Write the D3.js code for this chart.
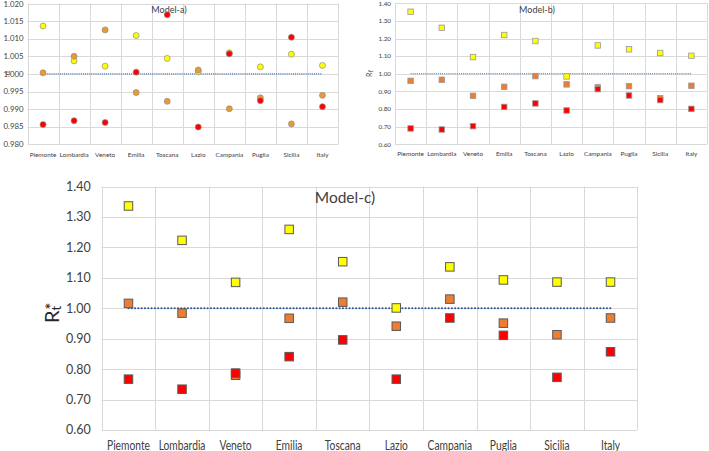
<!DOCTYPE html>
<html><head><meta charset="utf-8">
<script src="https://cdn.jsdelivr.net/npm/d3@7"></script>
<style>body{margin:0;background:#fff}svg{display:block;font-family:Lato,"Liberation Sans",sans-serif}</style>
</head><body><svg id="c" width="709" height="451"></svg>
<script>
const regions = ["Piemonte","Lombardia","Veneto","Emilia","Toscana","Lazio","Campania","Puglia","Sicilia","Italy"];
// Model-a) alpha values
const aYellow = [1.0136,1.0037,1.0022,1.0109,1.0044,1.0006,1.0060,1.0020,1.0056,1.0024];
const aOrange = [1.0003,1.0050,1.0125,0.9947,0.9922,1.0011,0.9901,0.9932,0.9858,0.9939];
const aRed    = [0.9856,0.9867,0.9862,1.0005,1.0168,0.9849,1.0057,0.9924,1.0104,0.9907];
const aTicks  = [0.980,0.985,0.990,0.995,1.000,1.005,1.010,1.015,1.020];
// Model-b) Rt* values
const bYellow = [1.352,1.261,1.095,1.220,1.186,0.985,1.161,1.139,1.118,1.102];
const bOrange = [0.960,0.966,0.875,0.926,0.987,0.940,0.923,0.930,0.862,0.932];
const bRed    = [0.690,0.684,0.703,0.812,0.832,0.792,0.913,0.877,0.851,0.801];
// Model-c) Rt* values
const cYellow = [1.336,1.223,1.085,1.259,1.153,1.001,1.136,1.093,1.086,1.086];
const cOrange = [1.016,0.984,0.780,0.967,1.020,0.941,1.030,0.951,0.913,0.968];
const cRed    = [0.767,0.734,0.787,0.841,0.896,0.767,0.968,0.911,0.773,0.857];
const rTicks  = [0.60,0.70,0.80,0.90,1.00,1.10,1.20,1.30,1.40];

const svg = d3.select("#c");

function panel(o){
  const g = svg.append("g");
  const x = d3.scaleBand().domain(regions).range([o.x0,o.x1]);
  const y = d3.scaleLinear().domain([o.ticks[0],o.ticks[o.ticks.length-1]]).range([o.y1,o.y0]);
  g.selectAll(".hg").data(o.ticks).enter().append("line")
    .attr("x1",o.x0).attr("x2",o.x1).attr("y1",d=>Math.round(y(d))+0.5).attr("y2",d=>Math.round(y(d))+0.5)
    .attr("stroke","#d9d9d9").attr("stroke-width",1);
  const vx = regions.map(r=>x(r)).concat([o.x1]);
  g.selectAll(".vg").data(vx).enter().append("line")
    .attr("x1",d=>Math.round(d)+0.5).attr("x2",d=>Math.round(d)+0.5).attr("y1",o.y0).attr("y2",o.y1)
    .attr("stroke","#d9d9d9").attr("stroke-width",1);
  g.selectAll(".yt").data(o.ticks).enter().append("text")
    .attr("x",o.x0-o.ypad).attr("y",d=>Math.max(y(d)+o.yfs*0.35, o.yfs*0.85)).attr("text-anchor","end")
    .attr("font-size",o.yfs).attr("fill","#404040").text(d=>d.toFixed(o.dec));
  const xt = g.selectAll(".xt").data(regions).enter().append("text")
    .attr("x",d=>x(d)+x.bandwidth()/2).attr("y",o.xly).attr("text-anchor","middle")
    .attr("font-size",o.xfs).attr("fill","#404040").text(d=>d);
  if(o.squeeze){
    xt.each(function(){ const L=this.getComputedTextLength();
      d3.select(this).attr("textLength",L*o.squeeze).attr("lengthAdjust","spacingAndGlyphs"); });
  }
  g.append("line").attr("x1",x(regions[0])+x.bandwidth()/2).attr("x2",x(regions[9])+x.bandwidth()/2)
    .attr("y1",y(1)).attr("y2",y(1)).attr("stroke",o.lc).attr("stroke-width",o.lw)
    .attr("stroke-dasharray",o.dash).attr("stroke-linecap",o.cap||"butt");
  g.append("text").attr("x",o.tx).attr("y",o.ty).attr("text-anchor","middle")
    .attr("font-size",o.tfs).attr("fill","#404040").text(o.title);
  o.series.forEach(s=>{
    if(o.shape==="circle"){
      g.selectAll(null).data(s.v).enter().append("circle")
        .attr("cx",(d,i)=>x(regions[i])+x.bandwidth()/2).attr("cy",d=>y(d)).attr("r",o.ms)
        .attr("fill",s.c).attr("stroke",o.stroke).attr("stroke-width",0.7);
    } else {
      g.selectAll(null).data(s.v).enter().append("rect")
        .attr("x",(d,i)=>x(regions[i])+x.bandwidth()/2-o.ms/2).attr("y",d=>y(d)-o.ms/2)
        .attr("width",o.ms).attr("height",o.ms)
        .attr("fill",s.c).attr("stroke",o.stroke).attr("stroke-width",o.sw||0.8);
    }
  });
  return {g,x,y};
}

const pa = panel({x0:27.5,x1:338,y0:3.5,y1:144.3,ticks:aTicks,dec:3,ypad:4,yfs:7.8,xfs:6.4,xly:156.5,
  lc:"#3a6db0",lw:1.1,dash:"1,1.1",tx:169,ty:12.5,tfs:9,title:"Model-a)",shape:"circle",ms:3,stroke:"#8c8c8c",
  series:[{v:aYellow,c:"#ffff00"},{v:aOrange,c:"#ec9a30"},{v:aRed,c:"#ff0000"}]});
pa.g.append("text").attr("transform","translate(10,73) rotate(-90)").attr("text-anchor","middle")
  .attr("font-size",8).attr("fill","#404040").text("α");

const pb = panel({x0:395,x1:707,y0:3.3,y1:144.3,ticks:rTicks,dec:2,ypad:4,yfs:6.3,xfs:6.4,xly:155.5,
  lc:"#3a6db0",lw:1.1,dash:"1,1.1",tx:537,ty:12.5,tfs:9,title:"Model-b)",shape:"rect",ms:5.5,stroke:"#999999",sw:0.8,
  series:[{v:bYellow,c:"#ffff00"},{v:bOrange,c:"#ed7d31"},{v:bRed,c:"#ff0000"}]});
const lb = pb.g.append("text").attr("transform","translate(372,77) rotate(-90)").attr("text-anchor","start")
  .attr("font-size",7).attr("fill","#404040");
lb.append("tspan").text("R");
lb.append("tspan").attr("font-size",5).attr("dy",1).text("t");
lb.append("tspan").attr("font-size",6).attr("dx",-1.5).attr("dy",-1.5).text("*");

const pc = panel({x0:101.7,x1:637.3,y0:186.5,y1:430,ticks:rTicks,dec:2,ypad:11,yfs:12.5,xfs:12.5,xly:449.5,squeeze:0.82,
  lc:"#2f5597",lw:2.2,dash:"0,3.3",cap:"round",tx:345,ty:203,tfs:15.5,title:"Model-c)",shape:"rect",ms:8.5,stroke:"#595959",sw:1,
  series:[{v:cYellow,c:"#ffff00"},{v:cOrange,c:"#ed7d31"},{v:cRed,c:"#ff0000"}]});
const lc = pc.g.append("text").attr("transform","translate(59,323) rotate(-90)").attr("text-anchor","start")
  .attr("font-size",20).attr("fill","#262626");
lc.append("tspan").text("R");
lc.append("tspan").attr("font-size",13).attr("dy",2).text("t");
lc.append("tspan").attr("font-size",17).attr("dx",-4).attr("dy",-3).text("*");
</script></body></html>
